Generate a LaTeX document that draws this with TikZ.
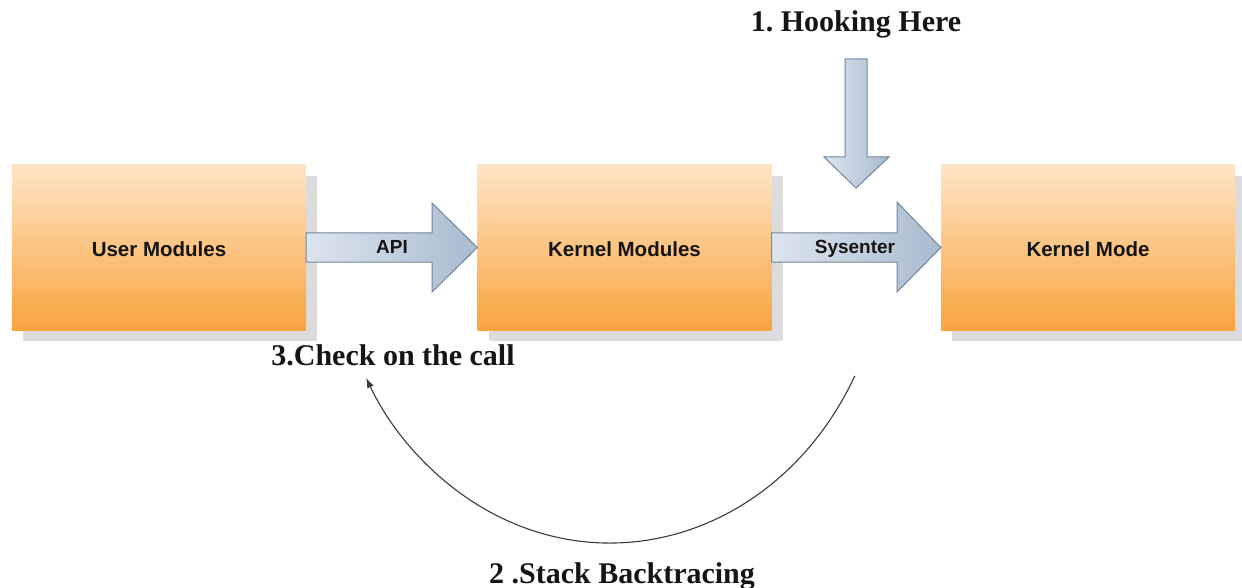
\documentclass[tikz,border=0pt]{standalone}
\usepackage{fontspec}
\setmainfont{Liberation Serif}
\setsansfont{Liberation Sans}
\usetikzlibrary{arrows.meta,calc}
\frenchspacing
\definecolor{boxtop}{HTML}{FEE5C6}
\definecolor{boxbot}{HTML}{F8A43E}
\definecolor{shadowc}{HTML}{DCDCDC}
\definecolor{arrl}{HTML}{DCE5EF}
\definecolor{arrr}{HTML}{A9BBCE}
\definecolor{arrb}{HTML}{74869A}
\definecolor{txt}{HTML}{151515}
\definecolor{curvec}{HTML}{3A3A3A}
\tikzset{
  modbox/.style={minimum width=294pt, minimum height=165pt, inner sep=0pt,
    top color=boxtop, bottom color=boxbot, draw=none},
  shadowbox/.style={minimum width=294pt, minimum height=165pt, inner sep=0pt, fill=shadowc, draw=none},
  blockarrow/.style={draw=arrb, line width=1pt, left color=arrl, right color=arrr, line join=miter},
  arrlabel/.style={font=\sffamily\bfseries\fontsize{19}{22}\selectfont, text=txt, anchor=base, inner sep=0pt},
  boxlabel/.style={font=\sffamily\bfseries\fontsize{20.5}{24}\selectfont, text=txt, anchor=base, inner sep=0pt},
  steplabel/.style={font=\rmfamily\bfseries\fontsize{30}{34}\selectfont, text=txt, anchor=base, inner sep=0pt},
  backcurve/.style={draw=curvec, line width=1.1pt, -{Latex[length=10pt,width=7pt]}}
}
\begin{document}
\begin{tikzpicture}[x=1pt,y=-1pt]
\useasboundingbox (0,0) rectangle (1242,588);
% shadows
\node[shadowbox] (ums) at (170,258.5) {};
\node[shadowbox] (kms) at (635.5,258.5) {};
\node[shadowbox] (kmos) at (1099,258.5) {};
% boxes
\node[modbox] (um) at (159,247.5) {};
\node[modbox] (km) at (624.5,247.5) {};
\node[modbox] (kmo) at (1088,247.5) {};
\node[boxlabel] (uml) at (159,256) {User Modules};
\node[boxlabel] (kml) at (624.5,256) {Kernel Modules};
\node[boxlabel] (kmol) at (1088,256) {Kernel Mode};
% API arrow
\path[blockarrow] (um.east |- 0,233) -- (432,233) -- (432,203) -- (km.west) -- (432,292) -- (432,262) -- (um.east |- 0,262) -- cycle;
\node[arrlabel] (api) at (392,254) {API};
% Sysenter arrow
\path[blockarrow] (km.east |- 0,233) -- (897,233) -- (897,202) -- (kmo.west) -- (897,292) -- (897,262) -- (km.east |- 0,262) -- cycle;
\node[arrlabel] (sys) at (855,253) {Sysenter};
% Hooking arrow
\node[steplabel] (hook) at (856,32) {1. Hooking Here};
\coordinate (hooktip) at (856,188);
\path[blockarrow] (845,59) -- (867,59) -- (867,157) -- (889,157) -- (hooktip) -- (824,157) -- (845,157) -- cycle;
% labels
\node[steplabel] (check) at (393,365) {3.Check on the call};
\node[steplabel] (stack) at (622,583) {2 .Stack Backtracing};
% back curve
\coordinate (cstart) at ($(610,229)+(27.9:277 and 314)$);
\draw[backcurve] (cstart) arc[start angle=27.9, end angle=151.7, x radius=277, y radius=314];
\end{tikzpicture}
\end{document}
